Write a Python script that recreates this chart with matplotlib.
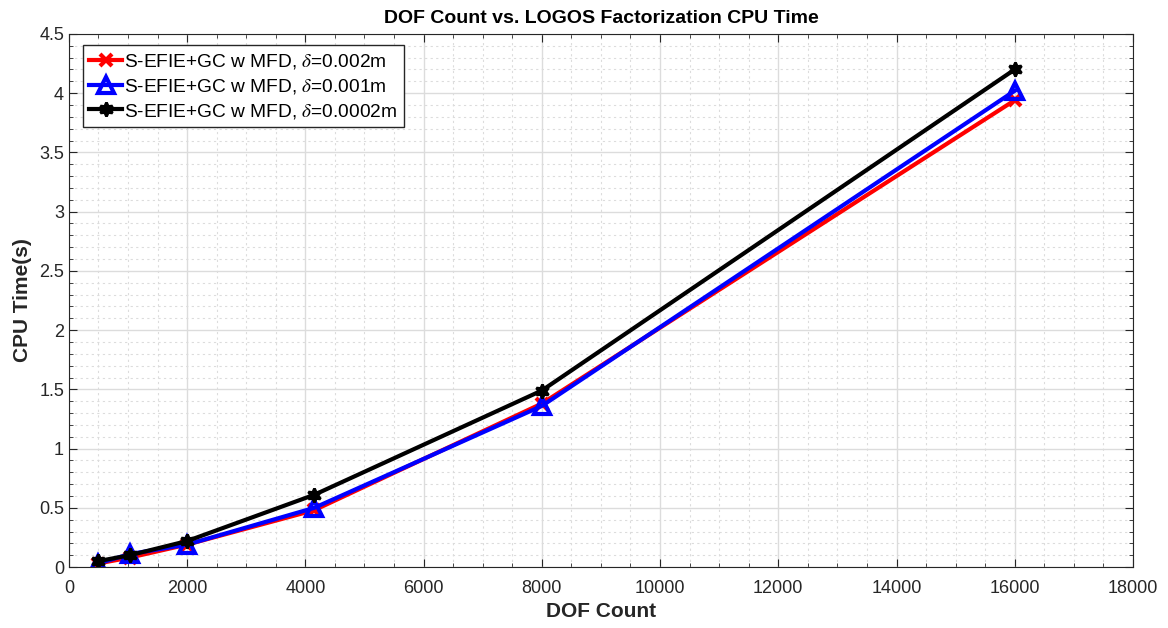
import matplotlib
matplotlib.use("Agg")
import matplotlib.pyplot as plt
from matplotlib.ticker import MultipleLocator

plt.rcParams['font.family'] = ['Liberation Sans', 'DejaVu Sans']
plt.rcParams['mathtext.fontset'] = 'stix'

dof = [490, 1030, 2000, 4150, 8000, 16000]
t_002 = [0.03, 0.08, 0.19, 0.48, 1.38, 3.94]
t_001 = [0.03, 0.11, 0.19, 0.50, 1.36, 4.02]
t_0002 = [0.05, 0.10, 0.22, 0.61, 1.49, 4.20]
labels = [r"S-EFIE+GC w MFD, $\delta$=0.002m",
          r"S-EFIE+GC w MFD, $\delta$=0.001m",
          r"S-EFIE+GC w MFD, $\delta$=0.0002m"]
yticks = [0, 0.5, 1, 1.5, 2, 2.5, 3, 3.5, 4, 4.5]
yticklabels = ['0', '0.5', '1', '1.5', '2', '2.5', '3', '3.5', '4', '4.5']

fig = plt.figure(figsize=(11.68, 6.28), dpi=100)
ax = fig.add_axes([0.059, 0.097, 0.911, 0.849])

ax.plot(dof, t_002, color='red', lw=3, marker='x', ms=9, mew=3, label=labels[0])
ax.plot(dof, t_001, color='blue', lw=3, marker='^', ms=11, mew=3,
        mfc='none', label=labels[1])
ax.plot(dof, t_0002, color='black', lw=3, marker=(6, 1, 0), ms=10, mew=2,
        label=labels[2])

ax.set_xlim(0, 18000)
ax.set_ylim(0, 4.5)
ax.xaxis.set_major_locator(MultipleLocator(2000))
ax.xaxis.set_minor_locator(MultipleLocator(500))
ax.yaxis.set_minor_locator(MultipleLocator(0.1))
ax.set_yticks(yticks)
ax.set_yticklabels(yticklabels)

# solid major grid, dotted minor grid
ax.grid(which='major', color='#dcdcdc', lw=1, ls='-')
ax.grid(which='minor', color='#dcdcdc', lw=0.8, ls=(0, (2, 3)))
ax.set_axisbelow(True)
ax.tick_params(which='both', direction='in', top=True, right=True,
               labelsize=13, colors='#262626', length=6)
ax.tick_params(which='minor', length=3)
ax.tick_params(axis='x', pad=9)
for s in ax.spines.values():
    s.set_color('#262626')

ax.set_title("DOF Count vs. LOGOS Factorization CPU Time", fontsize=14,
             fontweight='bold', pad=8)
ax.set_xlabel("DOF Count", fontsize=15, fontweight='bold', color='#262626',
              labelpad=4)
ax.set_ylabel("CPU Time(s)", fontsize=15, fontweight='bold', color='#262626',
              labelpad=5)

leg = ax.legend(loc='upper left', fontsize=13.8, fancybox=False, framealpha=1,
                edgecolor='#262626', handlelength=1.7, handletextpad=0.12,
                borderpad=0.35, labelspacing=0.31, borderaxespad=0,
                bbox_to_anchor=(0.013, 0.979))
leg.get_frame().set_linewidth(1)

fig.savefig("out.png", dpi=100)
